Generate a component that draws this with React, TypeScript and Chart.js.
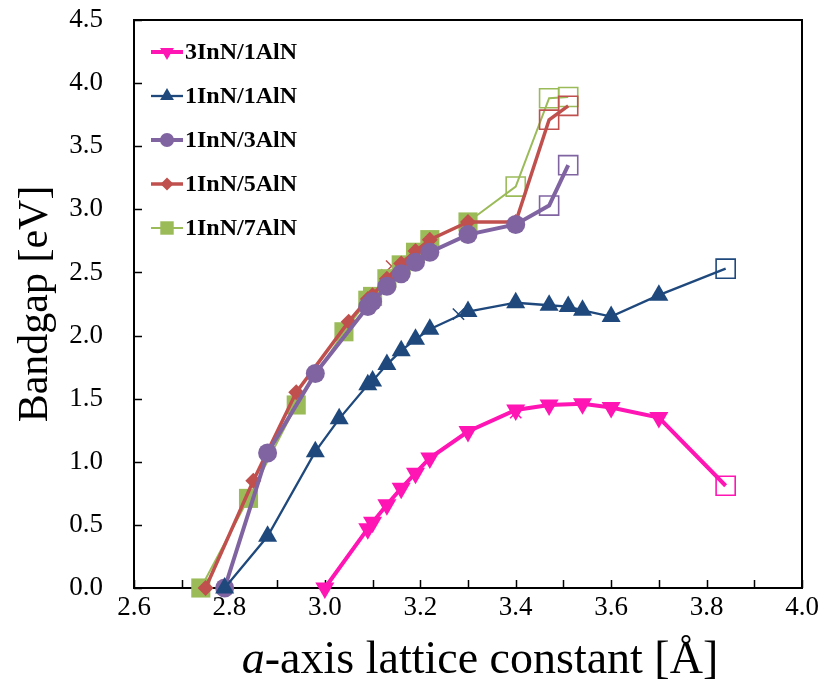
import React, { useEffect, useRef } from 'react';
import { Chart, registerables } from 'chart.js';
import { drawPoint } from 'chart.js/helpers';

Chart.register(...registerables);

// a-axis lattice constant [Å] and bandgap [eV] for each superlattice
const aInN3AlN1 = [3.0, 3.09, 3.1, 3.13, 3.16, 3.19, 3.22, 3.3, 3.4, 3.47, 3.54, 3.6, 3.7, 3.84];
const gapInN3AlN1 = [0.0, 0.47, 0.52, 0.66, 0.79, 0.91, 1.03, 1.24, 1.41, 1.45, 1.46, 1.43, 1.35, 0.81];

const aInN1AlN1 = [2.79, 2.88, 2.98, 3.03, 3.09, 3.1, 3.13, 3.16, 3.19, 3.22, 3.3, 3.4, 3.47, 3.51, 3.54, 3.6, 3.7, 3.84];
const gapInN1AlN1 = [0.0, 0.41, 1.08, 1.34, 1.61, 1.64, 1.77, 1.88, 1.97, 2.05, 2.19, 2.26, 2.24, 2.23, 2.2, 2.15, 2.32, 2.53];

const aInN1AlN3 = [2.79, 2.88, 2.98, 3.09, 3.1, 3.13, 3.16, 3.19, 3.22, 3.3, 3.4, 3.47, 3.51];
const gapInN1AlN3 = [0.0, 1.07, 1.7, 2.23, 2.27, 2.39, 2.49, 2.58, 2.66, 2.8, 2.88, 3.03, 3.35];

const aInN1AlN5 = [2.75, 2.85, 2.94, 3.05, 3.09, 3.1, 3.13, 3.16, 3.19, 3.22, 3.3, 3.4, 3.47, 3.51];
const gapInN1AlN5 = [0.0, 0.85, 1.55, 2.11, 2.29, 2.32, 2.45, 2.57, 2.67, 2.76, 2.9, 2.9, 3.71, 3.82];

const aInN1AlN7 = [2.74, 2.84, 2.94, 3.04, 3.09, 3.1, 3.13, 3.16, 3.19, 3.22, 3.3, 3.4, 3.47, 3.51];
const gapInN1AlN7 = [0.0, 0.71, 1.45, 2.03, 2.28, 2.31, 2.45, 2.56, 2.66, 2.76, 2.9, 3.18, 3.88, 3.89];

// number of trailing points per series that are marked as open squares
const openPoints = [1, 1, 2, 2, 3];

// stray cross markers
const crossA = [3.4, 3.28, 3.14, 3.13];
const crossGap = [1.39, 2.17, 2.55, 2.48];

const labels = ['3InN/1AlN', '1InN/1AlN', '1InN/3AlN', '1InN/5AlN', '1InN/7AlN'];
const xTicks = [2.6, 2.8, 3.0, 3.2, 3.4, 3.6, 3.8, 4.0];

const SERIF = "'Liberation Serif', 'Times New Roman', serif";

const looks = [
  { color: '#FF14B4', width: 4, style: 'triangle', rotation: 180, radius: 11, legendRadius: 8 },
  { color: '#1F497D', width: 2.3, style: 'triangle', rotation: 0, radius: 11, legendRadius: 8 },
  { color: '#8064A2', width: 4, style: 'circle', rotation: 0, radius: 9.5, legendRadius: 7 },
  { color: '#C0504D', width: 3.5, style: 'rectRot', rotation: 0, radius: 8, legendRadius: 6.5 },
  { color: '#9BBB59', width: 2, style: 'rect', rotation: 0, radius: 13.5, legendRadius: 9.5 },
];
const crossColors = ['#FF14B4', '#1F497D', '#C0504D', '#9BBB59'];

const seriesA = [aInN3AlN1, aInN1AlN1, aInN1AlN3, aInN1AlN5, aInN1AlN7];
const seriesGap = [gapInN3AlN1, gapInN1AlN1, gapInN1AlN3, gapInN1AlN5, gapInN1AlN7];

function buildDatasets() {
  const sets: any[] = seriesA.map((xs, i) => {
    const lk = looks[i];
    const n = xs.length;
    const isOpen = (j: number) => j >= n - openPoints[i];
    return {
      label: labels[i],
      data: xs.map((x, j) => ({ x, y: seriesGap[i][j] })),
      borderColor: lk.color,
      borderWidth: lk.width,
      showLine: true,
      tension: 0,
      clip: false,
      pointStyle: xs.map((_, j) => (isOpen(j) ? 'rect' : lk.style)),
      pointRotation: xs.map((_, j) => (isOpen(j) ? 0 : lk.rotation)),
      pointRadius: xs.map((_, j) => (isOpen(j) ? 13.5 : lk.radius)),
      pointBackgroundColor: xs.map((_, j) => (isOpen(j) ? 'rgba(0,0,0,0)' : lk.color)),
      pointBorderColor: lk.color,
      pointBorderWidth: xs.map((_, j) => (isOpen(j) ? 1.6 : 0)),
      pointHoverRadius: 0,
    };
  });
  crossA.forEach((x, k) => {
    sets.push({
      label: '',
      data: [{ x, y: crossGap[k] }],
      showLine: false,
      clip: false,
      pointStyle: 'crossRot',
      pointRadius: 8,
      pointBorderWidth: 1.5,
      pointBorderColor: crossColors[k],
      pointBackgroundColor: crossColors[k],
    });
  });
  return sets;
}

// box around the plot area with inward tick marks
const framePlugin = {
  id: 'frameTicks',
  beforeDatasetsDraw(chart: any) {
    const { ctx, chartArea, scales } = chart;
    const { left, right, top, bottom } = chartArea;
    ctx.save();
    ctx.strokeStyle = '#000';
    ctx.lineWidth = 2;
    ctx.strokeRect(left, top, right - left, bottom - top);
    ctx.lineWidth = 1.5;
    ctx.beginPath();
    const xt = scales.x.ticks.map((t: any) => t.value);
    const xs: number[] = [];
    xt.forEach((v: number, i: number) => {
      xs.push(v);
      if (i < xt.length - 1) xs.push((v + xt[i + 1]) / 2);
    });
    xs.forEach((v) => {
      const px = Math.round(scales.x.getPixelForValue(v)) + 0.5;
      ctx.moveTo(px, bottom);
      ctx.lineTo(px, bottom - 8);
    });
    scales.y.ticks.forEach((t: any) => {
      const py = Math.round(scales.y.getPixelForValue(t.value)) + 0.5;
      ctx.moveTo(left, py);
      ctx.lineTo(left + 8, py);
    });
    ctx.stroke();
    ctx.restore();
  },
};

// axis titles (the x title has an italic "a")
const titlePlugin = {
  id: 'axisTitles',
  afterDraw(chart: any) {
    const { ctx, chartArea } = chart;
    const { left, right, top, bottom } = chartArea;
    ctx.save();
    ctx.fillStyle = '#000';
    ctx.textBaseline = 'middle';
    const xSize = 46;
    const italic = `italic ${xSize}px ${SERIF}`;
    const upright = `${xSize}px ${SERIF}`;
    ctx.font = italic;
    const w1 = ctx.measureText('a').width;
    ctx.font = upright;
    const rest = '-axis lattice constant [Å]';
    const w2 = ctx.measureText(rest).width;
    const cx = (left + right) / 2 + 12;
    const x0 = cx - (w1 + w2) / 2;
    const ty = bottom + 73;
    ctx.textAlign = 'left';
    ctx.font = italic;
    ctx.fillText('a', x0, ty);
    ctx.font = upright;
    ctx.fillText(rest, x0 + w1, ty);

    ctx.font = `42px ${SERIF}`;
    ctx.translate(36, (top + bottom) / 2);
    ctx.rotate(-Math.PI / 2);
    ctx.textAlign = 'center';
    ctx.fillText('Bandgap [eV]', 0, 0);
    ctx.restore();
  },
};

// legend drawn inside the plot area, top-left
const legendPlugin = {
  id: 'insideLegend',
  afterDraw(chart: any) {
    const { ctx, chartArea } = chart;
    ctx.save();
    ctx.font = `bold 24px ${SERIF}`;
    ctx.textBaseline = 'middle';
    ctx.textAlign = 'left';
    labels.forEach((lab, i) => {
      const lk = looks[i];
      const y = chartArea.top + 32 + i * 44;
      const x0 = chartArea.left + 17;
      const x1 = chartArea.left + 49;
      ctx.strokeStyle = lk.color;
      ctx.lineWidth = lk.width;
      ctx.beginPath();
      ctx.moveTo(x0, y);
      ctx.lineTo(x1, y);
      ctx.stroke();
      ctx.fillStyle = lk.color;
      drawPoint(ctx, { pointStyle: lk.style, rotation: lk.rotation, radius: lk.legendRadius, borderWidth: 0 } as any, (x0 + x1) / 2, y);
      ctx.fillStyle = '#000';
      ctx.fillText(lab, x1 + 2, y + 1);
    });
    ctx.restore();
  },
};

export default function App() {
  const canvasRef = useRef<HTMLCanvasElement | null>(null);

  useEffect(() => {
    document.body.style.margin = '0';
    const canvas = canvasRef.current;
    if (!canvas) return;
    const chart = new Chart(canvas, {
      type: 'scatter',
      data: { datasets: buildDatasets() },
      plugins: [framePlugin, titlePlugin, legendPlugin],
      options: {
        responsive: false,
        animation: false,
        devicePixelRatio: 1,
        layout: { padding: { top: 20, right: 19, left: 0, bottom: 0 } },
        plugins: { legend: { display: false }, tooltip: { enabled: false } },
        events: [],
        scales: {
          x: {
            type: 'linear',
            min: 2.6,
            max: 4.0,
            afterBuildTicks: (scale: any) => {
              scale.ticks = xTicks.map((v) => ({ value: v }));
            },
            afterFit: (scale: any) => {
              scale.height = 105;
              scale.paddingLeft = 0;
              scale.paddingRight = 0;
            },
            grid: { display: false, drawTicks: false },
            border: { display: false },
            ticks: {
              padding: 4,
              color: '#000',
              font: { family: SERIF, size: 27 },
              callback: (v: any) => Number(v).toFixed(1),
            },
          },
          y: {
            type: 'linear',
            min: 0,
            max: 4.5,
            afterFit: (scale: any) => {
              scale.width = 134;
              scale.paddingTop = 0;
              scale.paddingBottom = 0;
            },
            grid: { display: false, drawTicks: false },
            border: { display: false },
            ticks: {
              stepSize: 0.5,
              padding: 31,
              color: '#000',
              font: { family: SERIF, size: 27 },
              callback: (v: any) => Number(v).toFixed(1),
            },
          },
        },
      },
    });
    return () => chart.destroy();
  }, []);

  return <canvas ref={canvasRef} width={821} height={693} style={{ display: 'block' }} />;
}
